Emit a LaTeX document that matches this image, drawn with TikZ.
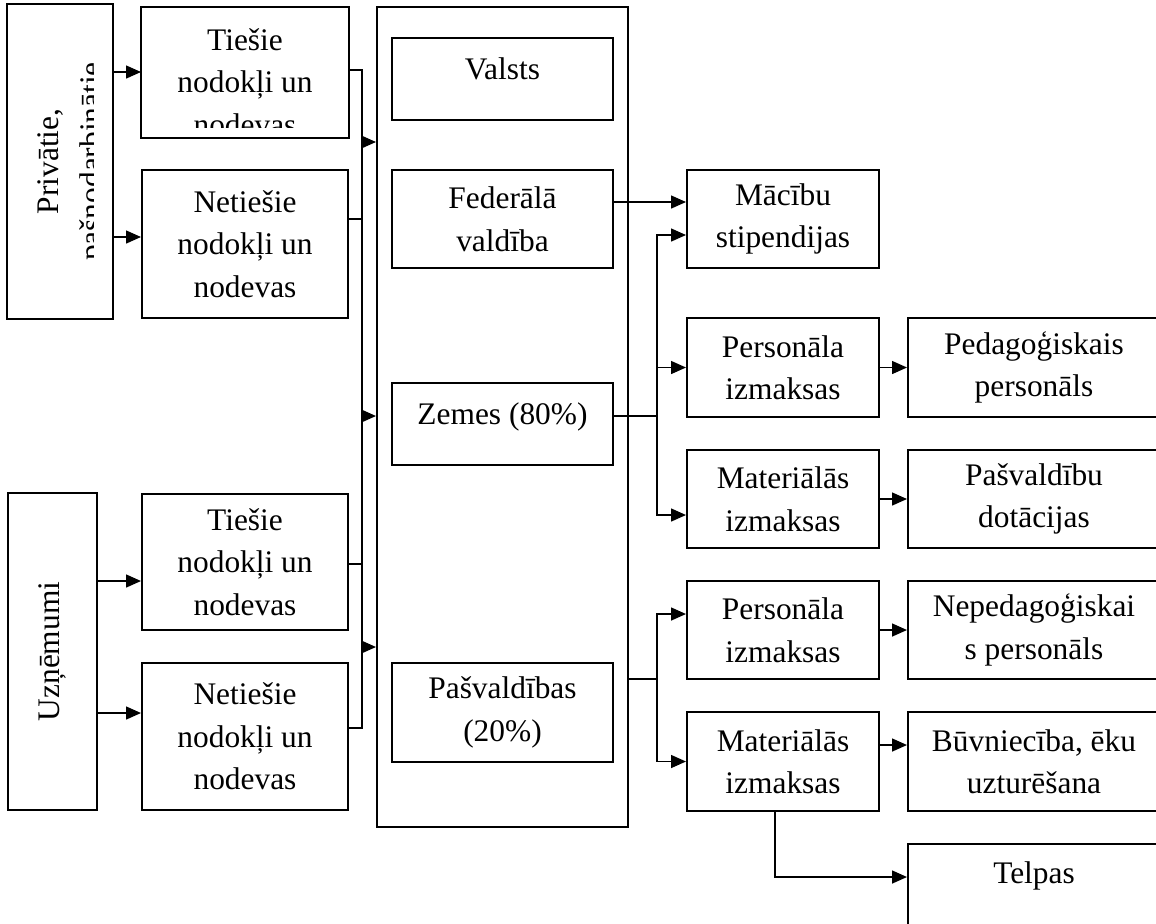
\documentclass[tikz,border=0pt]{standalone}
\usepackage{fontspec}
\setmainfont{Liberation Serif}
\usetikzlibrary{arrows.meta,calc}
\tikzset{
         frame/.style={draw=black,line width=1pt},
         box/.style={frame,inner sep=0pt,align=center,
                     font=\fontsize{15.7pt}{21.25pt}\selectfont},
         link/.style={line width=0.75pt},
         arr/.style={link,-{Triangle[length=7.5pt,width=6.5pt]}}
        }
\begin{document}
\begin{tikzpicture}[x=0.5pt,y=-0.5pt]
\clip (0,0) rectangle (1156,923);

% payers
\begin{scope}
\clip (10,8) rectangle (93,315);
\node[box,draw=none,rotate=90,minimum width=156.5pt,minimum height=52pt,text height=41pt,text depth=0pt] (priv) at (60,161.5) {Privātie,\\pašnodarbinātie};
\end{scope}
\draw[frame] (priv.north west) rectangle (priv.south east);
\node[box,rotate=90,minimum width=158.5pt,minimum height=44.5pt] (uzn) at (52.5,651.5) {Uzņēmumi};

% taxes
\begin{scope}
\clip (144,10) rectangle (346,127);
\node[box,draw=none,minimum width=103pt,minimum height=64.5pt,text height=62.5pt,text depth=0pt] (ts1) at (245,72.5) {Tiešie\\nodokļi un\\nodevas};
\end{scope}
\draw[frame] (ts1.south west) rectangle (ts1.north east);
\node[box,minimum width=103pt,minimum height=74pt] (nn1) at (245,244) {Netiešie\\nodokļi un\\nodevas};
\node[box,minimum width=103pt,minimum height=68pt] (ts2) at (245,562) {Tiešie\\nodokļi un\\nodevas};
\node[box,minimum width=103pt,minimum height=73.5pt] (nn2) at (245,736.5) {Netiešie\\nodokļi un\\nodevas};

% budget levels
\node[box,minimum width=125.5pt,minimum height=410pt] (cont) at (502.5,417) {};
\node[box,minimum width=110.5pt,minimum height=41pt,text depth=10pt] (val) at (502.5,79) {Valsts};
\node[box,minimum width=110.5pt,minimum height=49pt] (fed) at (502.5,219) {Federālā\\valdība};
\node[box,minimum width=110.5pt,minimum height=41pt,text depth=10pt] (zem) at (502.5,424) {Zemes (80\%)};
\node[box,minimum width=110.5pt,minimum height=49.5pt] (pas) at (502.5,712.5) {Pašvaldības\\(20\%)};

% expenses
\node[box,minimum width=96pt,minimum height=49pt] (mac) at (783,219) {Mācību\\stipendijas};
\node[box,minimum width=96pt,minimum height=49.5pt] (pe1) at (783,367.5) {Personāla\\izmaksas};
\node[box,minimum width=96pt,minimum height=49pt] (ma1) at (783,499) {Materiālās\\izmaksas};
\node[box,minimum width=96pt,minimum height=49pt] (pe2) at (783,630) {Personāla\\izmaksas};
\node[box,minimum width=96pt,minimum height=49.5pt] (ma2) at (783,761.5) {Materiālās\\izmaksas};

\node[box,minimum width=126pt,minimum height=49.5pt] (ped) at (1034,367.5) {Pedagoģiskais\\personāls};
\node[box,minimum width=126pt,minimum height=49pt] (pdo) at (1034,499) {Pašvaldību\\dotācijas};
\node[box,minimum width=126pt,minimum height=49pt] (nep) at (1034,630) {Nepedagoģiskai\\s personāls};
\node[box,minimum width=126pt,minimum height=49.5pt] (buv) at (1034,761.5) {Būvniecība, ēku\\uzturēšana};
\node[box,minimum width=126pt,minimum height=41pt,text depth=12pt] (tel) at (1034,885) {Telpas};

% payers to taxes
\draw[arr] (priv.south |- 0,72) -- (ts1.west |- 0,72);
\draw[arr] (priv.south |- 0,237) -- (nn1.west |- 0,237);
\draw[arr] (uzn.south |- 0,581) -- (ts2.west |- 0,581);
\draw[arr] (uzn.south |- 0,713) -- (nn2.west |- 0,713);

% taxes to budget
\coordinate (bus) at (362,70);
\draw[link] (ts1.east |- bus) -- (bus) -- (bus |- 0,728) -- (nn2.east |- 0,728);
\draw[link] (nn1.east |- 0,219) -- (bus |- 0,219);
\draw[link] (ts2.east |- 0,564) -- (bus |- 0,564);
\foreach \y in {142,416,647}
  \draw[arr] (bus |- 0,\y) -- (cont.west |- 0,\y);

% federal and lands
\draw[arr] (fed.east |- 0,202) -- (mac.west |- 0,202);
\coordinate (zj) at (657,416);
\draw[link] (zem.east |- zj) -- (zj);
\draw[arr] (zj) |- (mac.west |- 0,235);
\draw[arr] (zj) |- (pe1.west);
\draw[arr] (zj) |- (ma1.west |- 0,515);
\draw[arr] (pe1.east) -- (ped.west);
\draw[arr] (ma1.east) -- (pdo.west);

% municipalities
\coordinate (pj) at (657,679);
\draw[link] (cont.east |- pj) -- (pj);
\draw[arr] (pj) |- (pe2.west |- 0,614);
\draw[arr] (pj) |- (ma2.west);
\draw[arr] (pe2.east) -- (nep.west);
\draw[arr] (ma2.east |- 0,745) -- (buv.west |- 0,745);
\draw[arr] (ma2.south -| 775,0) |- (tel.west |- 0,877);

\end{tikzpicture}
\end{document}
